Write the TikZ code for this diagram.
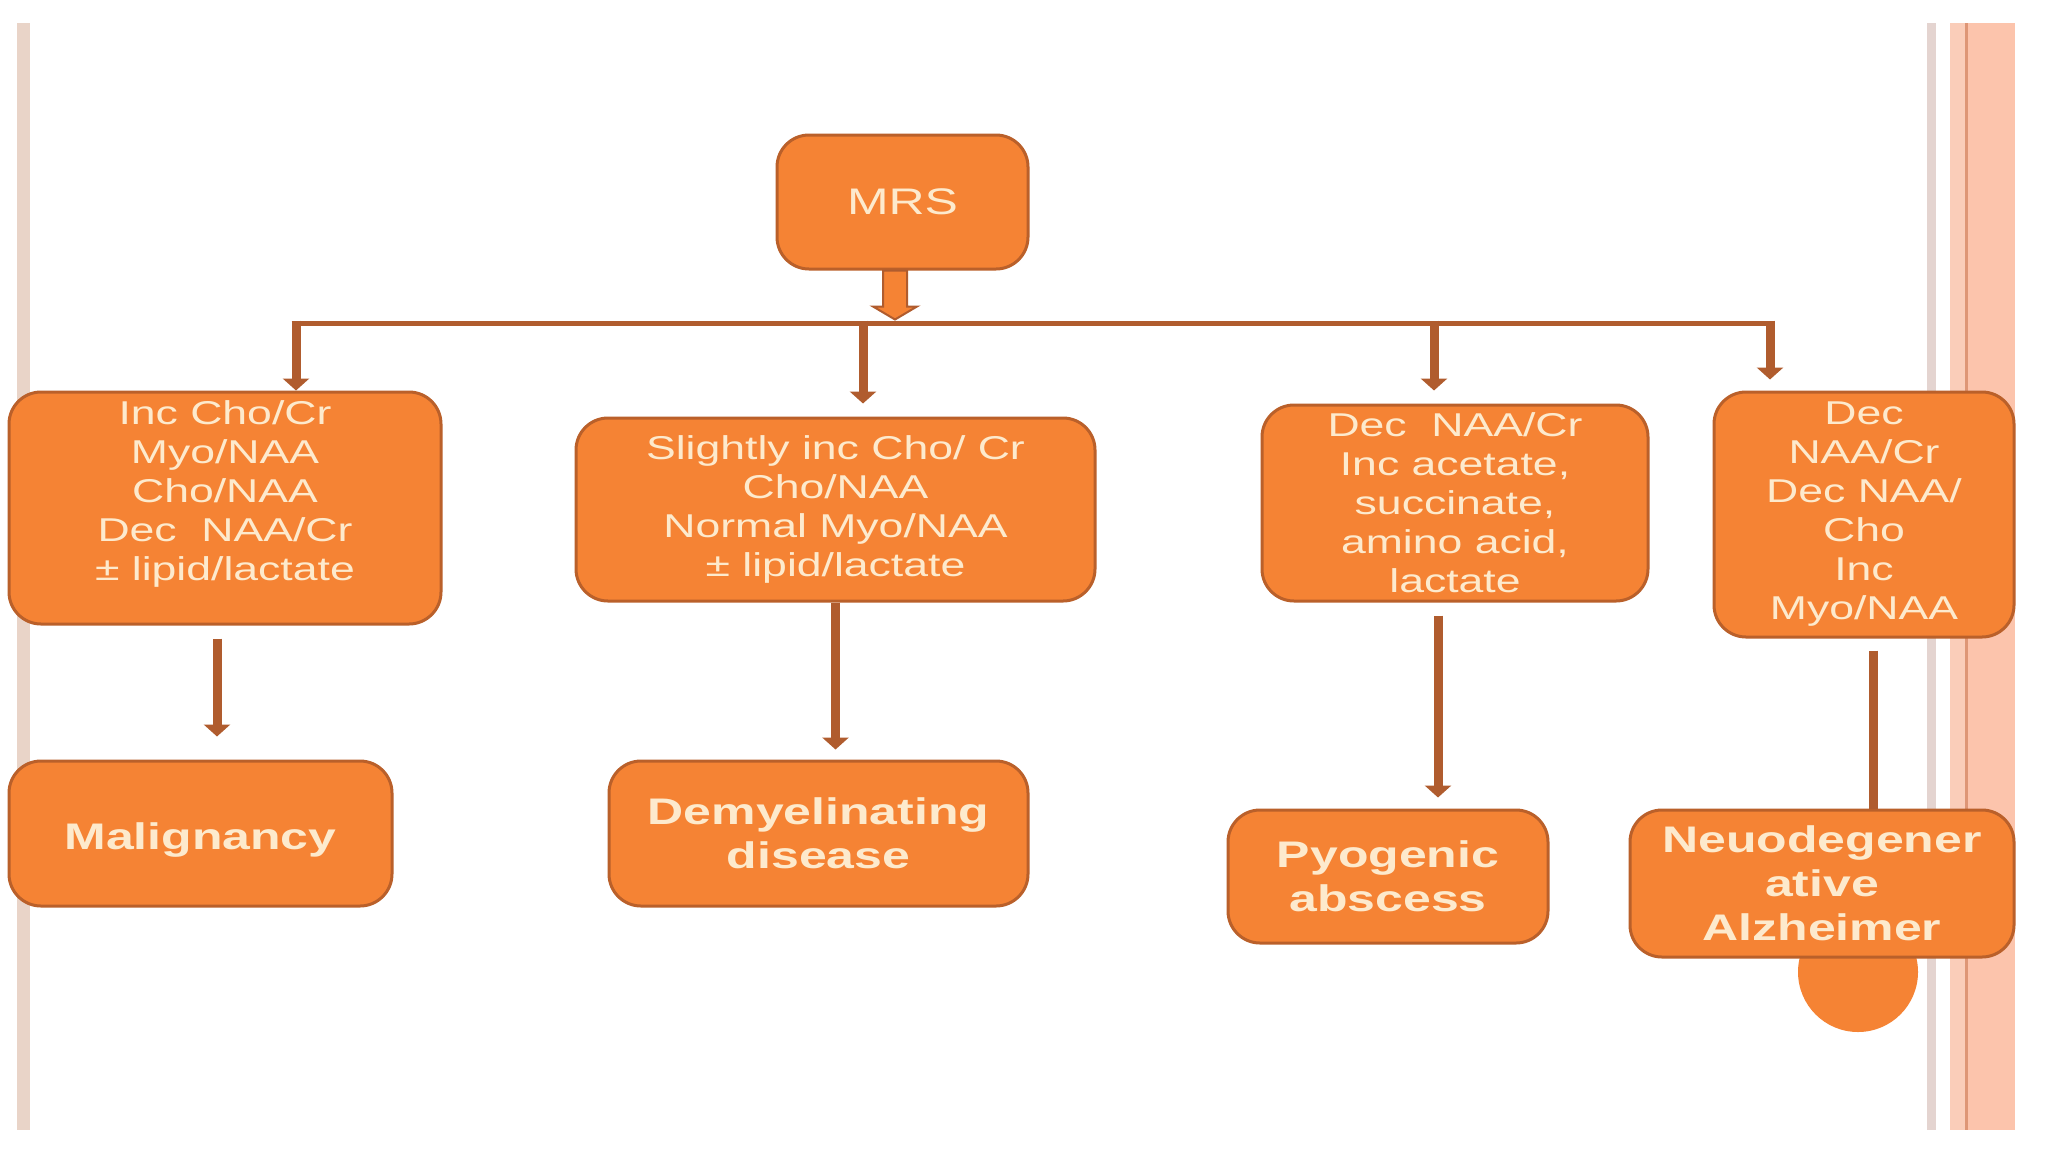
\documentclass[tikz,border=0pt]{standalone}
\usepackage{fontspec}
\setmainfont{Liberation Sans}[FakeStretch=1.35]
\usetikzlibrary{arrows.meta,calc}
\definecolor{boxfill}{RGB}{245,131,52}
\definecolor{boxline}{RGB}{186,96,42}
\definecolor{txtc}{RGB}{253,234,205}
\definecolor{arrc}{RGB}{176,92,46}
\definecolor{leftb}{RGB}{233,212,200}
\definecolor{rgray}{RGB}{228,212,208}
\definecolor{rpinka}{RGB}{250,205,185}
\definecolor{rdark}{RGB}{222,150,118}
\definecolor{rpeach}{RGB}{252,196,172}
\begin{document}
\begin{tikzpicture}[x=1pt,y=-1pt,
  box/.style={draw=boxline, line width=3pt, fill=boxfill, rounded corners=32pt,
    inner sep=0pt, text=txtc, align=center},
  reg/.style={font=\fontsize{33}{39}\selectfont},
  bld/.style={font=\fontsize{37}{44}\selectfont\bfseries},
  txt/.style={text=txtc, align=center, inner sep=0pt},
  conn/.style={draw=arrc, line width=9pt, -{Triangle[width=26pt,length=12pt]}},
  plainconn/.style={draw=arrc, line width=9pt},
  bus/.style={draw=arrc, line width=5pt},
  blockarrow/.style={fill=boxfill, draw=arrc, line width=2pt, line join=miter}]

\useasboundingbox (0,0) rectangle (2048,1152);
\fill[white] (0,0) rectangle (2048,1152);

% page borders
\fill[leftb] (17,23) rectangle (30,1130);
\fill[rgray] (1927,23) rectangle (1936,1130);
\fill[rpinka] (1950,23) rectangle (1965,1130);
\fill[rdark] (1965,23) rectangle (1968,1130);
\fill[rpeach] (1968,23) rectangle (2015,1130);

% top node
\node[box, reg, minimum width=251pt, minimum height=134pt] (mrs) at (902.5,202)
  {\fontsize{37}{44}\selectfont MRS};

% bus and junctions
\coordinate (j1) at (296,323);
\coordinate (j2) at (863,323);
\coordinate (j3) at (1434,323);
\coordinate (j4) at (1770,323);

% decorative circle behind last box
\node[circle, fill=boxfill, minimum size=120pt, inner sep=0pt] (dot) at (1858,972) {};

% second row
\node[box, minimum width=432pt, minimum height=232pt] (b1) at (225,508) {};
\node[txt, reg] (t1) at (225,494)
  {Inc Cho/Cr\\Myo/NAA\\Cho/NAA\\Dec~~NAA/Cr\\± lipid/lactate};
\node[box, reg, minimum width=519pt, minimum height=183pt] (b2) at (835.5,509.5)
  {Slightly inc Cho/ Cr\\Cho/NAA\\Normal Myo/NAA\\± lipid/lactate};
\node[box, reg, minimum width=386pt, minimum height=196pt] (b3) at (1455,503)
  {Dec~~NAA/Cr\\Inc acetate,\\succinate,\\amino acid,\\lactate};
\node[box, reg, minimum width=300pt, minimum height=245pt] (b4) at (1864,514.5)
  {Dec\\NAA/Cr\\Dec NAA/\\Cho\\Inc\\Myo/NAA};

% third row
\node[box, bld, minimum width=383pt, minimum height=145pt, text height=31pt, text depth=0pt] (mal) at (200.5,833.5)
  {Malignancy};
\node[box, bld, minimum width=419pt, minimum height=145pt] (dem) at (818.5,833.5)
  {Demyelinating\\disease};
\node[box, bld, minimum width=320pt, minimum height=133pt] (pyo) at (1388,876.5)
  {Pyogenic\\abscess};
\node[box, bld, minimum width=384pt, minimum height=147pt] (neu) at (1822,883.5)
  {Neuodegener\\ative\\Alzheimer};

% connectors
\filldraw[blockarrow] ([xshift=-19.5pt]mrs.south) -- ++(0,36) -- ++(-10,0)
  -- ++(22,13) -- ++(22,-13) -- ++(-10,0) -- ++(0,-36) -- cycle;
\draw[bus] ([xshift=-4.5pt]j1) -- ([xshift=4.5pt]j4);
\draw[conn] ([yshift=2.5pt]j1) -- (j1 |- b1.north);
\draw[conn, shorten >=13pt] ([yshift=2.5pt]j2) -- (j2 |- b2.north);
\draw[conn, shorten >=13pt] ([yshift=2.5pt]j3) -- (j3 |- b3.north);
\draw[conn, shorten >=11pt] ([yshift=2.5pt]j4) -- (j4 |- b4.north);

\draw[conn, shorten <=13pt, shorten >=23pt] ([xshift=-8pt]b1.south) -- ([xshift=-8pt]b1.south |- mal.north);
\draw[conn, shorten >=10pt] (b2.south) -- (b2.south |- dem.north);
\draw[conn, shorten <=13pt, shorten >=11pt] ([xshift=-17pt]b3.south) -- ([xshift=-17pt]b3.south |- pyo.north);
\draw[plainconn, shorten <=12pt] ([xshift=9pt]b4.south) -- ([xshift=9pt]b4.south |- neu.north);
\end{tikzpicture}
\end{document}
